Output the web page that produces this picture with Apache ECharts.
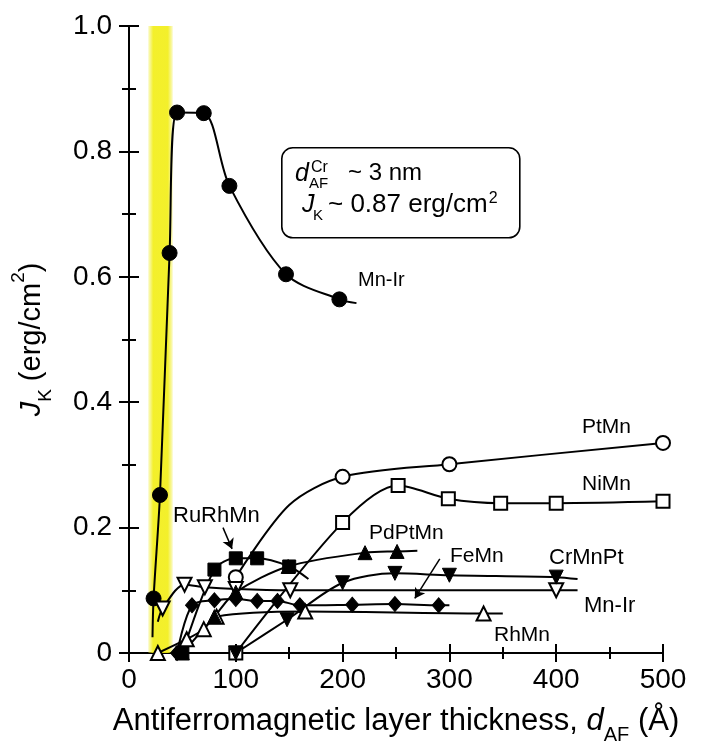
<!DOCTYPE html>
<html>
<head>
<meta charset="utf-8">
<script src="https://cdn.jsdelivr.net/npm/echarts@6/dist/echarts.min.js"></script>
<style>
html,body{margin:0;padding:0;background:#fff;}
#chart{width:703px;height:750px;}
</style>
</head>
<body>
<div id="chart"></div>
<script>
// ---- data ----
const xTicks = [0, 100, 200, 300, 400, 500];
const yTicks = [0, 0.2, 0.4, 0.6, 0.8, 1.0];
const bandRange = [18, 41];

// Mn-Ir (filled circles)
const mnIrCircX = [23, 29, 38, 45, 70, 94, 147, 197];
const mnIrCircY = [0.087, 0.252, 0.638, 0.862, 0.861, 0.745, 0.604, 0.564];
const mnIrCircEnds = [[22, 0.025], [213, 0.558]];

// PtMn (open circles)
const ptMnX = [100, 200, 300, 500];
const ptMnY = [0.121, 0.281, 0.301, 0.335];
const ptMnMid = [150, 0.236];

// NiMn (open squares)
const niMnX = [100, 200, 252, 299, 348, 400, 500];
const niMnY = [0, 0.208, 0.267, 0.246, 0.239, 0.239, 0.242];

// CrMnPt (filled down triangles)
const crMnPtX = [100, 148, 200, 249, 300, 400];
const crMnPtY = [0, 0.053, 0.112, 0.127, 0.124, 0.121];
const crMnPtEnd = [420, 0.118];

// Mn-Ir (open down triangles)
const mnIrTriX = [31.5, 52, 71, 100, 151, 400];
const mnIrTriY = [0.071, 0.109, 0.105, 0.102, 0.100, 0.100];
const mnIrTriEnds = [[27, 0.05], [420, 0.100]];

// RuRhMn (filled squares)
const ruRhMnX = [50, 80, 100, 120, 150];
const ruRhMnY = [0, 0.133, 0.151, 0.151, 0.138];
const ruRhMnEnd = [168, 0.118];

// PdPtMn (filled up triangles)
const pdPtMnX = [50, 80, 100, 149, 221, 251];
const pdPtMnY = [0, 0.058, 0.097, 0.138, 0.160, 0.162];
const pdPtMnEnd = [270, 0.163];

// FeMn (filled diamonds)
const feMnX = [45, 59, 80, 100, 120, 139, 160, 209, 249, 290];
const feMnY = [0, 0.076, 0.084, 0.086, 0.083, 0.083, 0.076, 0.077, 0.078, 0.076];
const feMnEnd = [300, 0.076];

// RhMn (open up triangles)
const rhMnX = [27, 54, 70, 82, 165, 332];
const rhMnY = [0, 0.022, 0.038, 0.058, 0.066, 0.063];
const rhMnEnd = [350, 0.063];

// arrows
const ruRhMnArrow = [[88, 0.200], [96.5, 0.166]];
const feMnArrow = [[291, 0.150], [267.6, 0.087]];

// ---- build ----
function pts(xs, ys) { return xs.map((x, i) => [x, ys[i]]); }
function hidden(p) { return { value: p, symbol: 'none' }; }

const FONT = '"Liberation Sans", Arial, sans-serif';
const BLACK = '#000';

function mkSeries(name, data, symbol, size, filled, extra) {
  return Object.assign({
    name: name,
    type: 'line',
    data: data,
    smooth: 0.3,
    symbol: symbol,
    symbolSize: size,
    showAllSymbol: true,
    lineStyle: { color: BLACK, width: 2 },
    itemStyle: filled ? { color: BLACK, borderColor: BLACK, borderWidth: 1 }
                      : { color: '#fff', borderColor: BLACK, borderWidth: 2 },
    emphasis: { disabled: true },
    animation: false,
    z: 3
  }, extra || {});
}

const series = [];

series.push(mkSeries('Mn-Ir',
  [hidden(mnIrCircEnds[0])].concat(pts(mnIrCircX, mnIrCircY)).concat([hidden(mnIrCircEnds[1])]),
  'circle', 15, true, {
    markArea: {
      silent: true,
      itemStyle: {
        color: new echarts.graphic.LinearGradient(0, 0, 1, 0, [
          { offset: 0, color: 'rgba(240,236,40,0.25)' },
          { offset: 0.2, color: 'rgba(242,238,20,0.9)' },
          { offset: 0.8, color: 'rgba(242,238,20,0.9)' },
          { offset: 1, color: 'rgba(240,236,40,0.25)' }
        ])
      },
      data: [[{ xAxis: bandRange[0] }, { xAxis: bandRange[1] }]]
    }
  }));

const ptData = pts(ptMnX, ptMnY);
ptData.splice(1, 0, hidden(ptMnMid));
series.push(mkSeries('PtMn', ptData, 'circle', 14, false));

series.push(mkSeries('NiMn', pts(niMnX, niMnY), 'rect', 13, false));

series.push(mkSeries('RhMn', pts(rhMnX, rhMnY).concat([hidden(rhMnEnd)]), 'triangle', 14, false));

series.push(mkSeries('FeMn', pts(feMnX, feMnY).concat([hidden(feMnEnd)]), 'diamond', [13, 15], true, {
  markLine: {
    silent: true, symbol: ['none', 'arrow'], symbolSize: [9, 10],
    lineStyle: { color: BLACK, width: 1.5, type: 'solid' },
    label: { show: false },
    data: [[{ coord: feMnArrow[0] }, { coord: feMnArrow[1] }]]
  }
}));

series.push(mkSeries('Mn-Ir2',
  [hidden(mnIrTriEnds[0])].concat(pts(mnIrTriX, mnIrTriY)).concat([hidden(mnIrTriEnds[1])]),
  'triangle', 14, false, { symbolRotate: 180 }));

series.push(mkSeries('PdPtMn', pts(pdPtMnX, pdPtMnY).concat([hidden(pdPtMnEnd)]), 'triangle', 14, true));

series.push(mkSeries('CrMnPt', pts(crMnPtX, crMnPtY).concat([hidden(crMnPtEnd)]), 'triangle', 14, true, { symbolRotate: 180 }));

series.push(mkSeries('RuRhMn', pts(ruRhMnX, ruRhMnY).concat([hidden(ruRhMnEnd)]), 'rect', 13, true, {
  markLine: {
    silent: true, symbol: ['none', 'arrow'], symbolSize: [9, 10],
    lineStyle: { color: BLACK, width: 1.5, type: 'solid' },
    label: { show: false },
    data: [[{ coord: ruRhMnArrow[0] }, { coord: ruRhMnArrow[1] }]]
  }
}));

const axisLineStyle = { show: true, lineStyle: { color: BLACK, width: 2 } };

const chart = echarts.init(document.getElementById('chart'), null, { renderer: 'canvas' });

function label(text, left, cy, size) {
  return {
    type: 'text', left: left, top: cy - size * 0.6,
    style: { text: text, font: size + 'px ' + FONT, fill: BLACK }
  };
}
// text placed by its left edge and its baseline (middle = baseline - 0.35*size)
function btext(text, x, base, size, italic) {
  return {
    type: 'text', x: x, y: base - 0.35 * size,
    style: {
      text: text, fill: BLACK, verticalAlign: 'middle', align: 'left',
      font: (italic ? 'italic ' : '') + size + 'px ' + FONT
    }
  };
}
const meas = document.createElement('canvas').getContext('2d');
function textW(t, size) { meas.font = size + 'px ' + FONT; return meas.measureText(t).width; }

const line2 = '~ 0.87 erg/cm';
const line2X = 328;
const line2Size = 26;
const line2End = line2X + textW(line2, line2Size);

chart.setOption({
  backgroundColor: '#fff',
  animation: false,
  grid: { left: 129, right: 40, top: 26, bottom: 90, containLabel: false },
  xAxis: [{
    type: 'value', min: xTicks[0], max: xTicks[xTicks.length - 1], interval: 100,
    position: 'bottom',
    axisLine: axisLineStyle,
    axisTick: { show: true, inside: true, length: 9, lineStyle: { color: BLACK, width: 2 } },
    minorTick: { show: true, splitNumber: 2, length: 6, lineStyle: { color: BLACK, width: 2 } },
    splitLine: { show: false },
    axisLabel: { color: BLACK, fontSize: 28, fontFamily: FONT, margin: 13 },
    name: 'Antiferromagnetic layer thickness, {i|d}{sub|AF} (Å)',
    nameLocation: 'middle', nameGap: 50,
    nameTextStyle: {
      color: BLACK, fontSize: 31, fontFamily: FONT, lineHeight: 36,
      rich: {
        i: { fontStyle: 'italic', fontSize: 31, fontFamily: FONT, color: BLACK, lineHeight: 36 },
        sub: { fontSize: 20, fontFamily: FONT, color: BLACK, verticalAlign: 'bottom', lineHeight: 20, padding: [0, 0, -6, 0] }
      }
    }
  }, {
    type: 'value', min: xTicks[0], max: xTicks[xTicks.length - 1], interval: 100,
    position: 'top',
    axisLine: axisLineStyle,
    axisTick: { show: true, inside: true, length: 9, lineStyle: { color: BLACK, width: 2 } },
    minorTick: { show: true, splitNumber: 2, length: 6, lineStyle: { color: BLACK, width: 2 } },
    splitLine: { show: false },
    axisLabel: { show: false }
  }],
  yAxis: [{
    type: 'value', min: yTicks[0], max: yTicks[yTicks.length - 1], interval: 0.2,
    position: 'left',
    axisLine: axisLineStyle,
    axisTick: { show: true, inside: true, length: 10, lineStyle: { color: BLACK, width: 2 } },
    minorTick: { show: true, splitNumber: 2, length: 7, lineStyle: { color: BLACK, width: 2 } },
    splitLine: { show: false },
    axisLabel: {
      color: BLACK, fontSize: 28, fontFamily: FONT, margin: 17,
      formatter: v => (v === 0 ? '0' : v.toFixed(1))
    },
    name: '{i|J}{sub|K} (erg/cm{sup|2})',
    nameLocation: 'middle', nameGap: 80, nameRotate: 90,
    nameTextStyle: {
      color: BLACK, fontSize: 29, fontFamily: FONT, lineHeight: 34,
      rich: {
        i: { fontStyle: 'italic', fontSize: 29, fontFamily: FONT, color: BLACK, lineHeight: 34 },
        sub: { fontSize: 19, fontFamily: FONT, color: BLACK, verticalAlign: 'bottom', lineHeight: 19, padding: [0, 0, -6, 0] },
        sup: { fontSize: 19, fontFamily: FONT, color: BLACK, verticalAlign: 'top', lineHeight: 19, padding: [-6, 0, 0, 0] }
      }
    }
  }, {
    type: 'value', min: yTicks[0], max: yTicks[yTicks.length - 1], interval: 0.2,
    position: 'right',
    axisLine: axisLineStyle,
    axisTick: { show: true, inside: true, length: 10, lineStyle: { color: BLACK, width: 2 } },
    minorTick: { show: true, splitNumber: 2, length: 7, lineStyle: { color: BLACK, width: 2 } },
    splitLine: { show: false },
    axisLabel: { show: false }
  }],
  series: series,
  graphic: [
    {
      type: 'rect', left: 281, top: 147,
      shape: { width: 238, height: 90, r: 11 },
      style: { fill: '#fff', stroke: BLACK, lineWidth: 1.6 }
    },
    btext('d', 295, 183, 25, true),
    btext('AF', 309, 189, 15, false),
    btext('Cr', 311, 173, 16, false),
    btext('~ 3 nm', 348, 182, 24, false),
    btext('J', 302, 214, 25, true),
    btext('K', 313, 221, 15, false),
    btext(line2, line2X, 214, line2Size, false),
    btext('2', line2End + 1, 204, 16, false),
    label('Mn-Ir', 358, 282, 20),
    label('PtMn', 582, 429, 21),
    label('NiMn', 582, 486, 21),
    label('RuRhMn', 173, 518, 22),
    label('PdPtMn', 369, 535, 21),
    label('FeMn', 450, 558, 21),
    label('CrMnPt', 549, 560, 22),
    label('Mn-Ir', 584, 608, 22),
    label('RhMn', 494, 637, 21)
  ]
});
</script>
</body>
</html>
